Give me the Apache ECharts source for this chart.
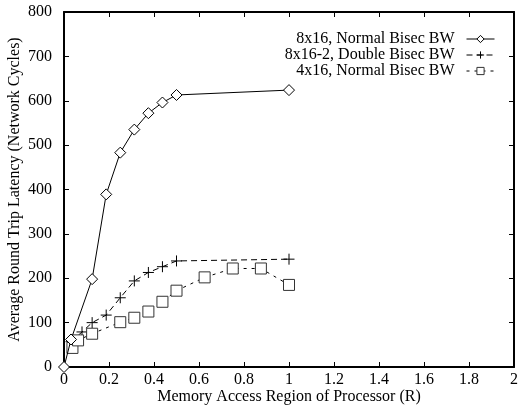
<!DOCTYPE html>
<html><head><meta charset="utf-8">
<script src="https://cdn.jsdelivr.net/npm/echarts@6/dist/echarts.min.js"></script>
<style>html,body{margin:0;padding:0;background:#fff}#c{width:520px;height:410px}</style>
</head><body><div id="c"></div>
<script>
var seriesNames = ['8x16, Normal Bisec BW', '8x16-2, Double Bisec BW', '4x16, Normal Bisec BW'];
var xA = [0, 0.03125, 0.125, 0.1875, 0.25, 0.3125, 0.375, 0.4375, 0.5, 1];
var yA = [0, 62, 198, 389, 483, 535, 572, 596, 613, 624];
var xB = [0.03125, 0.08, 0.125, 0.1875, 0.25, 0.3125, 0.375, 0.4375, 0.5, 1];
var yB = [57, 79, 100, 117, 156, 194, 213, 226, 239, 243];
var xC = [0.0375, 0.0625, 0.125, 0.25, 0.3125, 0.375, 0.4375, 0.5, 0.625, 0.75, 0.875, 1];
var yC = [43, 60, 75, 101, 111, 125, 147, 172, 202, 222, 222, 185];
var xTicks = [0, 0.2, 0.4, 0.6, 0.8, 1, 1.2, 1.4, 1.6, 1.8, 2];
var yTicks = [0, 100, 200, 300, 400, 500, 600, 700, 800];
var xTitle = 'Memory Access Region of Processor (R)';
var yTitle = 'Average Round Trip Latency (Network Cycles)';

function zip(xs, ys){ return xs.map(function(x,i){ return [x, ys[i]]; }); }
var FONT = '"Liberation Serif", "DejaVu Serif", serif';
var FS = 16;
var chart = echarts.init(document.getElementById('c'));
var axCommon = {
  axisLine: {show: true, onZero: false, lineStyle: {color: '#000', width: 2}},
  axisTick: {show: true, inside: true, length: 5, lineStyle: {color: '#000', width: 1}},
  splitLine: {show: false},
  nameMoveOverlap: false
};
function mk(o){ return Object.assign({}, axCommon, o); }
var diamond = 'path://M0,-1 L1,0 L0,1 L-1,0 Z';
var plus = 'path://M-1,0 L1,0 M0,-1 L0,1';
chart.setOption({
  animation: false,
  backgroundColor: '#fff',
  grid: {left: 64, right: 6, top: 12, bottom: 43, containLabel: false, outerBoundsMode: 'none'},
  legend: {
    right: 25, top: 31, orient: 'vertical', align: 'right', padding: 0,
    itemWidth: 28, itemHeight: 9, itemGap: 0,
    lineStyle: {width: 1},
    itemStyle: {borderWidth: 1},
    textStyle: {fontFamily: FONT, fontSize: FS, color: '#000', padding: [0, 7, 0, 0]},
    data: seriesNames
  },
  xAxis: [
    mk({type: 'value', min: xTicks[0], max: xTicks[xTicks.length-1], interval: 0.2,
      name: xTitle, nameLocation: 'middle', nameGap: 22,
      nameTextStyle: {fontFamily: FONT, fontSize: FS, color: '#000'},
      axisLabel: {fontFamily: FONT, fontSize: FS, color: '#000', margin: 5,
        formatter: function(v){ return String(Math.round(v*10)/10); }}}),
    mk({type: 'value', position: 'top', min: 0, max: 2, interval: 0.2, axisLabel: {show: false}})
  ],
  yAxis: [
    mk({type: 'value', min: yTicks[0], max: yTicks[yTicks.length-1], interval: 100,
      name: yTitle, nameLocation: 'middle', nameGap: 41, nameRotate: 90,
      nameTextStyle: {fontFamily: FONT, fontSize: FS, color: '#000'},
      axisLabel: {fontFamily: FONT, fontSize: FS, color: '#000', margin: 12}}),
    mk({type: 'value', position: 'right', min: 0, max: 800, interval: 100, axisLabel: {show: false}})
  ],
  series: [
    {name: seriesNames[0], type: 'line', data: zip(xA, yA), symbol: diamond, symbolSize: 11,
      lineStyle: {color: '#000', width: 1, type: 'solid'},
      itemStyle: {color: '#fff', borderColor: '#000', borderWidth: 1}, z: 3},
    {name: seriesNames[1], type: 'line', data: zip(xB, yB), symbol: plus, symbolSize: 11,
      lineStyle: {color: '#000', width: 1, type: [6, 4]},
      itemStyle: {color: '#000', borderColor: '#000', borderWidth: 1}, z: 2},
    {name: seriesNames[2], type: 'line', data: zip(xC, yC), symbol: 'rect', symbolSize: 11,
      lineStyle: {color: '#000', width: 1, type: [3, 5]},
      itemStyle: {color: '#fff', borderColor: '#333', borderWidth: 1}, z: 2}
  ]
});
</script></body></html>
